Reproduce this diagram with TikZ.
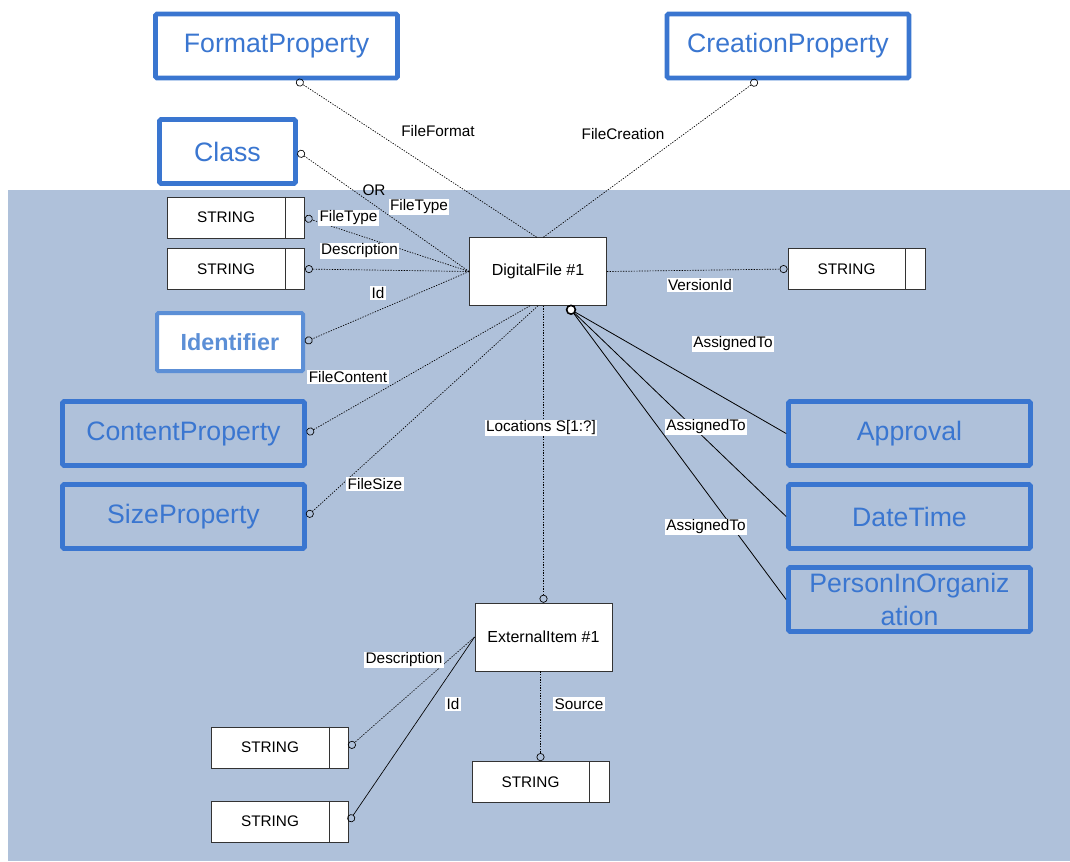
\documentclass[tikz,border=0pt]{standalone}
\usepackage{fontspec}
\setmainfont{Liberation Sans}
\usetikzlibrary{arrows.meta}
\definecolor{bgblue}{RGB}{175,193,218}
\definecolor{boxblue}{RGB}{58,118,208}
\definecolor{idblue}{RGB}{92,143,214}
\newcommand{\strtxt}{STRING\rule{15pt}{0pt}}
\begin{document}
\begin{tikzpicture}[
x=0.75pt,y=-0.75pt,
clsbox/.style={draw=boxblue,line width=3.5pt,rounded corners=1pt,text=boxblue,
  font=\fontsize{20}{25}\selectfont,minimum width=181.5pt,minimum height=48pt,align=center},
idbox/.style={draw=idblue,line width=3pt,rounded corners=1pt,text=idblue,fill=white,
  font=\fontsize{17.5}{21}\selectfont\bfseries,minimum width=109.5pt,minimum height=43.5pt},
strbox/.style={draw=black!80,fill=white,minimum width=103pt,minimum height=31pt,
  font=\fontsize{11.5}{14}\selectfont},
entbox/.style={draw=black!80,fill=white,minimum width=103pt,minimum height=51pt,
  font=\fontsize{12}{14}\selectfont},
lnk/.style={line width=0.5pt,dash pattern=on 1pt off 1pt,-{Circle[open,length=6pt,width=6pt]}},
asgn/.style={line width=0.6pt},
lbl/.style={fill=white,inner sep=1pt,font=\fontsize{11.5}{14}\selectfont}
]
\useasboundingbox (0,0) rectangle (1070,861);
\fill[bgblue] (8,190) rectangle (1070,861);

% classes
\node[clsbox,fill=white] (fmt) at (276.5,46) {FormatProperty};
\node[clsbox,fill=white] (cre) at (788,46) {CreationProperty};
\node[clsbox,fill=white,minimum width=102pt] (cls) at (227.5,151.5) {Class};
\node[idbox] (idf) at (230,342) {Identifier};
\node[clsbox] (cnt) at (183.5,433.5) {ContentProperty};
\node[clsbox] (siz) at (183.5,516.5) {SizeProperty};
\node[clsbox] (apr) at (909.5,433.5) {Approval};
\node[clsbox] (dtm) at (909.5,516.5) {DateTime};
\node[clsbox] (pio) at (909.5,599.5) {PersonInOrganiz\\ation};

% entities
\node[entbox] (dig) at (538,271.5) {DigitalFile \#1};
\node[entbox] (ext) at (543.5,637) {ExternalItem \#1};

% simple types
\node[strbox] (s1) at (236,217.5) {\strtxt};
\node[strbox] (s2) at (236,269) {\strtxt};
\node[strbox] (vs) at (856.5,269) {\strtxt};
\node[strbox] (b1) at (280,747.5) {\strtxt};
\node[strbox] (b2) at (280,821.5) {\strtxt};
\node[strbox] (b3) at (540.5,782) {\strtxt};
\foreach \n in {s1,s2,vs,b1,b2,b3}
  \draw[black!80] ([xshift=-15pt]\n.north east) -- ([xshift=-15pt]\n.south east);

% relations
\draw[lnk] ([xshift=-1pt]dig.north) -- ([xshift=15pt]fmt.south);
\draw[lnk] ([xshift=4pt]dig.north) -- ([xshift=-23pt]cre.south);
\draw[lnk] (dig.west) -- (cls.east);
\draw[lnk] (dig.west) -- (s1.east);
\draw[lnk] (dig.west) -- (s2.east);
\draw[lnk] (dig.west) -- (idf.east);
\draw[lnk] ([xshift=-6pt]dig.south) -- (cnt.east);
\draw[lnk] (dig.south) -- (siz.east);
\draw[lnk] (dig.east) -- (vs.west);
\draw[lnk] (ext.north |- dig.south) -- (ext.north);

\coordinate (asg) at ([xshift=24.75pt,yshift=-3pt]dig.south);
\draw[asgn] (asg) -- (apr.west);
\draw[asgn] (asg) -- (dtm.west);
\draw[asgn] (asg) -- (pio.west);
\draw[line width=1.2pt,fill=white] (asg) circle (3.3pt);

\draw[lnk] (ext.west) -- (b1.east);
\draw[lnk,solid] (ext.west) -- (b2.east);
\draw[lnk] (b3.north |- ext.south) -- (b3.north);

% labels
\node[lbl] (l1) at (438,131) {FileFormat};
\node[lbl] (l2) at (623,134) {FileCreation};
\node[lbl,fill=none] (l3) at (374,190) {OR};
\node[lbl] (l4) at (419,207) {FileType};
\node[lbl] (l5) at (348.5,218) {FileType};
\node[lbl] (l6) at (359.5,251) {Description};
\node[lbl] (l7) at (378,293) {Id};
\node[lbl] (l8) at (348,377) {FileContent};
\node[lbl] (l9) at (375,484) {FileSize};
\node[lbl] (l10) at (541,428) {Locations S[1:?]};
\node[lbl] (l11) at (700,285) {VersionId};
\node[lbl] (l12) at (733,344) {AssignedTo};
\node[lbl] (l13) at (706,427) {AssignedTo};
\node[lbl] (l14) at (706,527) {AssignedTo};
\node[lbl] (l15) at (404,660) {Description};
\node[lbl] (l16) at (453,704) {Id};
\node[lbl] (l17) at (579,704) {Source};
\end{tikzpicture}
\end{document}
